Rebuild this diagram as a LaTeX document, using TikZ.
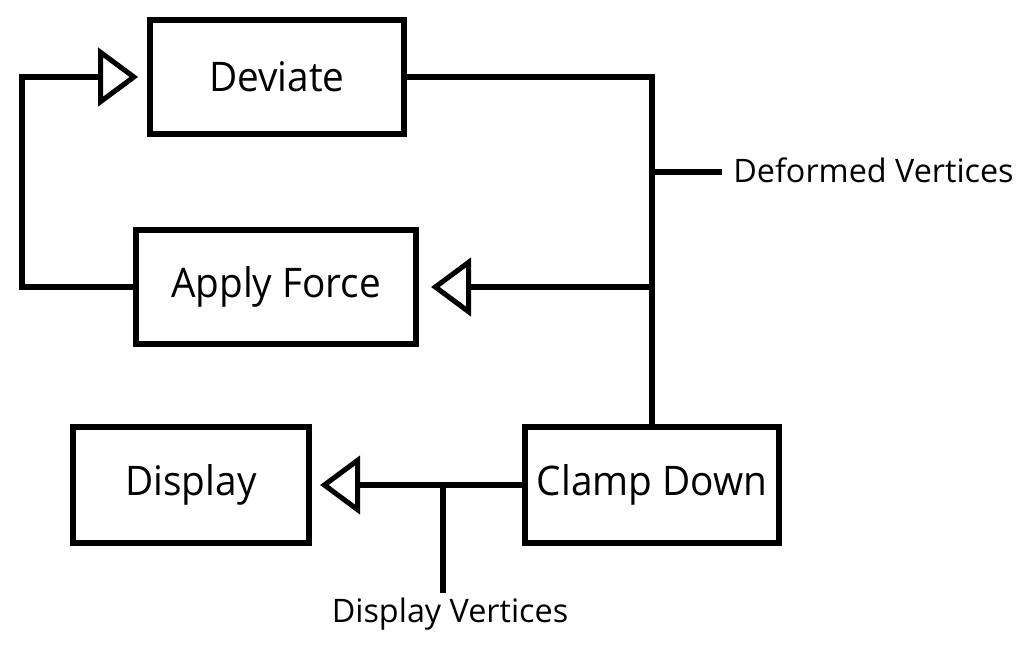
\documentclass[tikz,border=0pt]{standalone}
\usepackage{fontspec}
\setmainfont{Open Sans}
\newfontfamily\boxfont[FakeStretch=0.95]{Open Sans}
\usetikzlibrary{arrows.meta,positioning}

\begin{document}
\begin{tikzpicture}[
    x=0.025cm, y=-0.025cm,
    block/.style={rectangle, draw=black, line width=4.3pt,
                  minimum height=2.85cm, inner sep=0pt,
                  align=center, font=\boxfont\fontsize{29}{34}\selectfont},
    lbl/.style={inner sep=0pt, font=\fontsize{23}{28}\selectfont},
    wire/.style={line width=4.3pt, draw=black},
    arr/.style={wire, -{Triangle[open, length=1.0cm, width=1.45cm, line width=3.6pt]}}
]
    \useasboundingbox (0,0) rectangle (1034,646);

    \node[block, minimum width=6.35cm] (deviate) at (277,77) {Deviate};
    \node[block, minimum width=7cm] (force) at (276,287) {Apply Force};
    \node[block, minimum width=5.9cm, minimum height=2.9cm] (display) at (191,485) {Display};
    \node[block, minimum width=6.35cm, minimum height=2.9cm] (clamp) at (652,485) {Clamp Down};

    % junctions on the wires
    \coordinate (top) at (652,77);
    \coordinate (jdef) at (652,172);
    \coordinate (jforce) at (652,287);
    \coordinate (jdisp) at (443,485);
    \coordinate (defend) at (722,172);
    \coordinate (dispend) at (443,593);

    \node[lbl, anchor=west] (deformed) at (733,170) {Deformed Vertices};
    \node[lbl, anchor=north] (dispvert) at (450,598) {Display Vertices};

    \draw[wire] (deviate.east) -- (top) -- (clamp.north);
    \draw[wire] (jdef) -- (defend);
    \draw[arr, shorten >=0.3cm] (jforce) -- (force.east);
    \draw[arr, shorten >=0.22cm] (force.west) -- (22,287) |- (deviate.west);
    \draw[arr, shorten >=0.2cm] (clamp.west) -- (display.east);
    \draw[wire] (jdisp) -- (dispend);
\end{tikzpicture}
\end{document}
